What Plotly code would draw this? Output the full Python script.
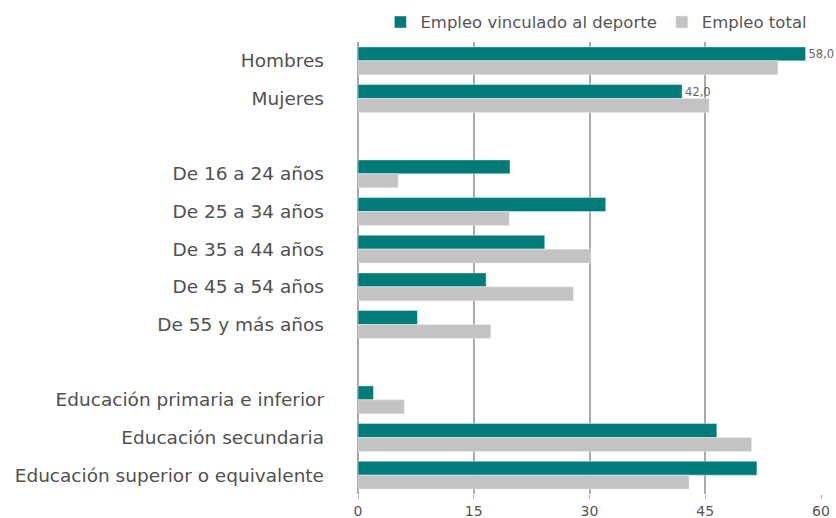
import plotly.graph_objects as go

categories = [
    "Hombres", "Mujeres", " ",
    "De 16 a 24 años", "De 25 a 34 años", "De 35 a 44 años",
    "De 45 a 54 años", "De 55 y más años", "  ",
    "Educación primaria e inferior", "Educación secundaria",
    "Educación superior o equivalente",
]
deporte = [58.0, 42.0, None, 19.7, 32.1, 24.2, 16.6, 7.7, None, 2.0, 46.5, 51.7]
total = [54.4, 45.5, None, 5.2, 19.6, 30.2, 27.9, 17.2, None, 6.0, 51.0, 42.9]
labels = ["58,0", "42,0", "", "", "", "", "", "", "", "", "", ""]
x_ticks = [0, 15, 30, 45, 60]

TEAL = "#007b78"
GREY = "#c3c3c3"

fig = go.Figure()
fig.add_trace(go.Bar(
    y=categories, x=deporte, orientation="h", name="Empleo vinculado al deporte",
    marker=dict(color=TEAL), text=labels, textposition="outside",
    textfont=dict(size=11.5, color="#666"), cliponaxis=False,
))
fig.add_trace(go.Bar(
    y=categories, x=total, orientation="h", name="Empleo total",
    marker=dict(color=GREY),
))

fig.update_layout(
    width=836, height=518,
    paper_bgcolor="white", plot_bgcolor="white",
    font=dict(family="DejaVu Sans", size=17, color="#505050"),
    margin=dict(l=358, r=15, t=42, b=24, autoexpand=False),
    barmode="group", bargap=0.26, bargroupgap=0,
    legend=dict(orientation="h", x=0.455, xanchor="left", y=0.957, yanchor="middle",
                yref="container", xref="container",
                font=dict(size=16.5, color="#555"), itemwidth=30, traceorder="normal",
                tracegroupgap=0),
    xaxis=dict(range=[0, 60], tickvals=x_ticks, showgrid=True, gridcolor="#aaa",
               gridwidth=1.5, zeroline=True, zerolinecolor="#aaa", zerolinewidth=1.5,
               ticks="outside", tickcolor="#aaa", ticklen=4,
               tickfont=dict(size=14, color="#555")),
    yaxis=dict(categoryorder="array", categoryarray=categories, autorange="reversed",
               showline=False, ticks="", ticklabelstandoff=33,
               tickfont=dict(size=18.5, color="#505050")),
)

# drop the default 8px body margin so the figure fills the window exactly
fig.write_html("out.html", config={"displayModeBar": False},
               post_script="document.body.style.margin='0';")
